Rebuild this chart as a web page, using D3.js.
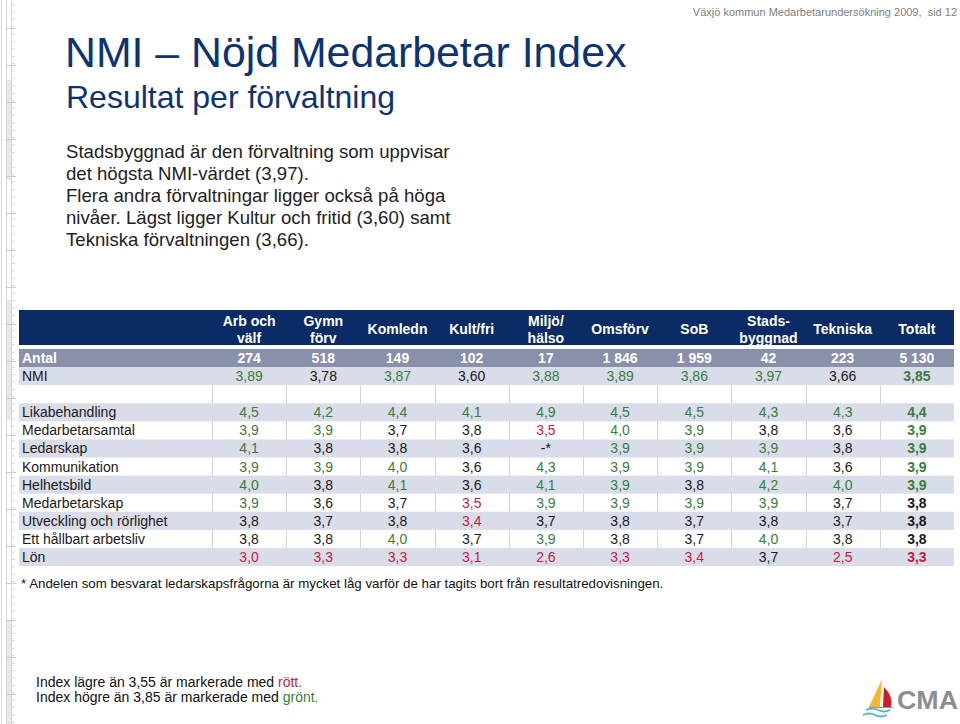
<!DOCTYPE html>
<html>
<head>
<meta charset="utf-8">
<script src="https://cdn.jsdelivr.net/npm/d3@7"></script>
<style>
  html, body { margin: 0; padding: 0; background: #fff; }
  svg { display: block; font-family: Arial, "Liberation Sans", sans-serif; }
</style>
</head>
<body>
<svg id="chart" width="960" height="724"></svg>
<script>
// ---- data ----
const categories = ["Arb och\nvälf", "Gymn\nförv", "Komledn", "Kult/fri", "Miljö/\nhälso",
                    "Omsförv", "SoB", "Stads-\nbyggnad", "Tekniska", "Totalt"];
const antal = [274, 518, 149, 102, 17, 1846, 1959, 42, 223, 5130];
const nmi = [3.89, 3.78, 3.87, 3.60, 3.88, 3.89, 3.86, 3.97, 3.66, 3.85];
const rowLabels = ["Likabehandling", "Medarbetarsamtal", "Ledarskap", "Kommunikation", "Helhetsbild",
                   "Medarbetarskap", "Utveckling och rörlighet", "Ett hållbart arbetsliv", "Lön"];
const likabehandling   = [4.5, 4.2, 4.4, 4.1, 4.9, 4.5, 4.5, 4.3, 4.3, 4.4];
const medarbetarsamtal = [3.9, 3.9, 3.7, 3.8, 3.5, 4.0, 3.9, 3.8, 3.6, 3.9];
const ledarskap        = [4.1, 3.8, 3.8, 3.6, null, 3.9, 3.9, 3.9, 3.8, 3.9];
const kommunikation    = [3.9, 3.9, 4.0, 3.6, 4.3, 3.9, 3.9, 4.1, 3.6, 3.9];
const helhetsbild      = [4.0, 3.8, 4.1, 3.6, 4.1, 3.9, 3.8, 4.2, 4.0, 3.9];
const medarbetarskap   = [3.9, 3.6, 3.7, 3.5, 3.9, 3.9, 3.9, 3.9, 3.7, 3.8];
const utveckling       = [3.8, 3.7, 3.8, 3.4, 3.7, 3.8, 3.7, 3.8, 3.7, 3.8];
const hallbart         = [3.8, 3.8, 4.0, 3.7, 3.9, 3.8, 3.7, 4.0, 3.8, 3.8];
const lon              = [3.0, 3.3, 3.3, 3.1, 2.6, 3.3, 3.4, 3.7, 2.5, 3.3];
const rowValues = [likabehandling, medarbetarsamtal, ledarskap, kommunikation, helhetsbild,
                   medarbetarskap, utveckling, hallbart, lon];
const lowLimit = 3.55, highLimit = 3.85;
const missingLabel = "-*";

// ---- styles ----
const navy = "#0b2b66", titleBlue = "#0d3370", antalBg = "#8890aa", lightBg = "#d9dce9";
const green = "#3a7d3c", red = "#c41e3a", textCol = "#1a1a1a", gridCol = "#d4d4d4";

const loc = d3.formatLocale({decimal: ",", thousands: " ", grouping: [3], currency: ["", ""]});
const fmtInt = loc.format(",.0f"), fmt2 = loc.format(".2f"), fmt1 = loc.format(".1f");
const colorOf = v => v == null ? textCol : (v < lowLimit ? red : (v >= highLimit ? green : textCol));

const svg = d3.select("#chart");

// ---- left ruler decoration ----
const ruler = svg.append("g");
ruler.selectAll("rect.band").data([[80, 180], [300, 420], [620, 724]]).join("rect")
  .attr("x", 7).attr("width", 4).attr("y", d => d[0]).attr("height", d => d[1] - d[0]).attr("fill", "#e8e8e8");
[1.5, 6.5, 11.5].forEach(x => ruler.append("line").attr("x1", x).attr("x2", x).attr("y1", 0).attr("y2", 724)
  .attr("stroke", "#d8d8d8"));
ruler.selectAll("line.t").data(d3.range(4, 724, 7.4)).join("line")
  .attr("x1", 11).attr("x2", 15).attr("y1", d => d + 0.5).attr("y2", d => d + 0.5).attr("stroke", "#d8d8d8");
ruler.selectAll("line.l").data(d3.range(28, 724, 37)).join("line")
  .attr("x1", 6).attr("x2", 16).attr("y1", d => d + 0.5).attr("y2", d => d + 0.5).attr("stroke", "#cacaca");

// ---- header texts ----
svg.append("text").attr("x", 957).attr("y", 16).attr("text-anchor", "end").style("white-space", "pre")
  .attr("font-size", 11).attr("fill", "#808080").text("Växjö kommun Medarbetarundersökning 2009,  sid 12");
svg.append("text").attr("x", 65).attr("y", 67).attr("font-size", 42.8).attr("fill", titleBlue)
  .text("NMI – Nöjd Medarbetar Index");
svg.append("text").attr("x", 66).attr("y", 108).attr("font-size", 32).attr("fill", titleBlue)
  .text("Resultat per förvaltning");
const intro = ["Stadsbyggnad är den förvaltning som uppvisar", "det högsta NMI-värdet (3,97).",
  "Flera andra förvaltningar ligger också på höga", "nivåer. Lägst ligger Kultur och fritid (3,60) samt",
  "Tekniska förvaltningen (3,66)."];
svg.append("g").selectAll("text").data(intro).join("text")
  .attr("x", 66).attr("y", (d, i) => 158 + i * 22).attr("font-size", 18.6).attr("fill", "#222").text(d => d);

// ---- table scales ----
const x = d3.scaleBand().domain(categories).range([212, 954]);
const tableRows = ["Antal", "NMI", "blank"].concat(rowLabels);
const y = d3.scaleBand().domain(tableRows).range([349, 566]);
const left = 19, right = 954;

const tbl = svg.append("g");
// header band
tbl.append("rect").attr("x", left).attr("y", 310).attr("width", right - left).attr("height", 35).attr("fill", navy);
const hdr = tbl.append("g").selectAll("text").data(categories).join("text")
  .attr("x", d => x(d) + x.bandwidth() / 2).attr("text-anchor", "middle")
  .attr("font-size", 14).attr("font-weight", "bold").attr("fill", "#fff");
hdr.each(function (d) {
  const parts = d.split("\n");
  const t = d3.select(this);
  if (parts.length === 1) {
    t.attr("y", 334).text(d);
  } else {
    parts.forEach((p, i) => t.append("tspan").attr("x", x(d) + x.bandwidth() / 2).attr("y", 326 + i * 17).text(p));
  }
});

// vertical grid lines (visible in white rows)
const yTop = y("blank"), yBot = y(rowLabels[rowLabels.length - 1]) + y.bandwidth();
tbl.append("g").selectAll("line").data(categories).join("line")
  .attr("x1", d => Math.round(x(d)) + 0.5).attr("x2", d => Math.round(x(d)) + 0.5)
  .attr("y1", yTop).attr("y2", yBot).attr("stroke", gridCol);

// row backgrounds
tbl.append("rect").attr("x", left).attr("y", y("Antal")).attr("width", right - left).attr("height", y.bandwidth()).attr("fill", antalBg);
tbl.append("rect").attr("x", left).attr("y", y("NMI")).attr("width", right - left).attr("height", y.bandwidth()).attr("fill", lightBg);
tbl.append("g").selectAll("rect").data(rowLabels.filter((d, i) => i % 2 === 0)).join("rect")
  .attr("x", left).attr("y", d => y(d)).attr("width", right - left).attr("height", y.bandwidth()).attr("fill", lightBg);

// row labels
const base = d => y(d) + y.bandwidth() / 2 + 5;
tbl.append("text").attr("x", 22).attr("y", base("Antal")).attr("font-size", 14).attr("font-weight", "bold")
  .attr("fill", "#fff").text("Antal");
tbl.append("text").attr("x", 22).attr("y", base("NMI")).attr("font-size", 14).attr("fill", textCol).text("NMI");
tbl.append("g").selectAll("text").data(rowLabels).join("text")
  .attr("x", 22).attr("y", d => base(d)).attr("font-size", 14).attr("fill", textCol).text(d => d);

// antal values
tbl.append("g").selectAll("text").data(antal).join("text")
  .attr("x", (d, i) => x(categories[i]) + x.bandwidth() / 2).attr("y", base("Antal"))
  .attr("text-anchor", "middle").attr("font-size", 14).attr("font-weight", "bold").attr("fill", "#fff")
  .text(d => fmtInt(d));
// NMI values
tbl.append("g").selectAll("text").data(nmi).join("text")
  .attr("x", (d, i) => x(categories[i]) + x.bandwidth() / 2).attr("y", base("NMI"))
  .attr("text-anchor", "middle").attr("font-size", 14)
  .attr("font-weight", (d, i) => i === categories.length - 1 ? "bold" : null)
  .attr("fill", d => colorOf(d)).text(d => fmt2(d));
// index rows
rowValues.forEach((vals, r) => {
  tbl.append("g").selectAll("text").data(vals).join("text")
    .attr("x", (d, i) => x(categories[i]) + x.bandwidth() / 2).attr("y", base(rowLabels[r]))
    .attr("text-anchor", "middle").attr("font-size", 14)
    .attr("font-weight", (d, i) => i === categories.length - 1 ? "bold" : null)
    .attr("fill", d => colorOf(d)).text(d => d == null ? missingLabel : fmt1(d));
});

// ---- footnotes ----
svg.append("text").attr("x", 21).attr("y", 588).attr("font-size", 13.3).attr("fill", "#111")
  .text("* Andelen som besvarat ledarskapsfrågorna är mycket låg varför de har tagits bort från resultatredovisningen.");
const leg1 = svg.append("text").attr("x", 36).attr("y", 687).attr("font-size", 14).attr("fill", "#111");
leg1.append("tspan").text("Index lägre än 3,55 är markerade med ");
leg1.append("tspan").attr("fill", red).text("rött.");
const leg2 = svg.append("text").attr("x", 36).attr("y", 702).attr("font-size", 14).attr("fill", "#111");
leg2.append("tspan").text("Index högre än 3,85 är markerade med ");
leg2.append("tspan").attr("fill", green).text("grönt.");

// ---- logo ----
const logo = svg.append("g");
logo.append("path").attr("d", "M882,679 L869,707 L880,707 Z").attr("fill", "#f2b630");
logo.append("path").attr("d", "M884,687 Q894,697 891,707 L883,707 Z").attr("fill", "#cc1f2a");
logo.append("path").attr("d", "M866,710 Q872,707 878,710 T890,710").attr("fill", "none").attr("stroke", "#4fb8c6").attr("stroke-width", 1.8);
logo.append("path").attr("d", "M863,715 Q869,712 875,715 T887,715").attr("fill", "none").attr("stroke", "#4fb8c6").attr("stroke-width", 1.8);
logo.append("line").attr("x1", 869).attr("x2", 893).attr("y1", 707.5).attr("y2", 707.5).attr("stroke", "#9a9a9a");
logo.append("text").attr("x", 897).attr("y", 709).attr("font-size", 25).attr("font-weight", "bold")
  .attr("fill", "#8e8e8e").attr("textLength", 61).attr("lengthAdjust", "spacingAndGlyphs").text("CMA");
</script>
</body>
</html>
